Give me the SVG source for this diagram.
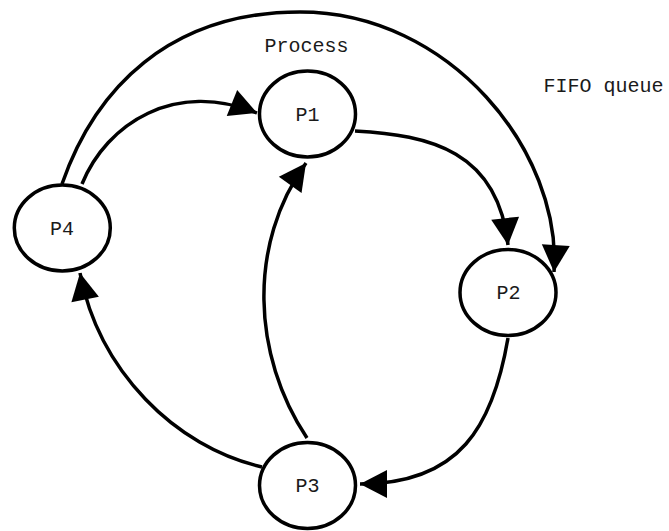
<svg xmlns="http://www.w3.org/2000/svg" width="669" height="531" viewBox="0 0 669 531">
  <style>
    .node ellipse { fill: #ffffff; stroke: #000000; stroke-width: 3.5; }
    .label { font-family: "Liberation Mono", "Courier New", monospace; font-size: 20px; fill: #1a1a1a; text-anchor: middle; }
    .edge { fill: none; stroke: #000000; stroke-width: 3.5; marker-end: url(#arrow); }
  </style>
  <defs>
    <marker id="arrow" markerUnits="userSpaceOnUse" viewBox="0 0 27 28" markerWidth="27" markerHeight="28" refX="27" refY="14" orient="auto" overflow="visible">
      <path d="M0,0 L27,14 L0,28 z" fill="#000000"/>
    </marker>
  </defs>

  <rect width="669" height="531" fill="#ffffff"/>

  <!-- free labels -->
  <text class="label" x="306.5" y="52">Process</text>
  <text class="label" x="603.5" y="92">FIFO queue</text>

  <!-- connectors -->
  <g id="edges">
    <path id="e-p4-p1" class="edge" d="M82,184 C107,123 175,80 257,113"/>
    <path id="e-p4-p2" class="edge" d="M62,184 C95,89 169,12 300,12 C450,12 562,152 554,272"/>
    <path id="e-p1-p2" class="edge" d="M355,131 C430,135 498,151 508,245"/>
    <path id="e-p2-p3" class="edge" d="M508,338 C493,426 460,484 360,484"/>
    <path id="e-p3-p4" class="edge" d="M262,467 C175,447 99,371 80,273"/>
    <path id="e-p3-p1" class="edge" d="M307,438 C252,355 247.5,244 306,163"/>
  </g>

  <!-- nodes -->
  <g id="P1" class="node">
    <ellipse cx="307.5" cy="114" rx="48" ry="43"/>
    <text class="label" x="307.5" y="121">P1</text>
  </g>
  <g id="P2" class="node">
    <ellipse cx="508" cy="292.5" rx="48" ry="43"/>
    <text class="label" x="508.5" y="298.5">P2</text>
  </g>
  <g id="P3" class="node">
    <ellipse cx="307.5" cy="485.5" rx="48" ry="43"/>
    <text class="label" x="307.5" y="492">P3</text>
  </g>
  <g id="P4" class="node">
    <ellipse cx="62.3" cy="228" rx="48" ry="43"/>
    <text class="label" x="62" y="235">P4</text>
  </g>
</svg>
